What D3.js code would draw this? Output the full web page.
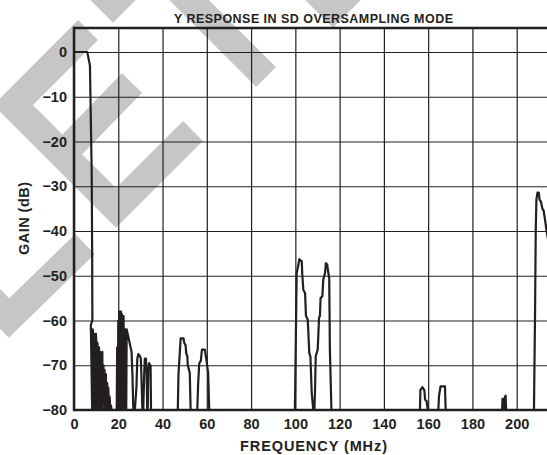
<!DOCTYPE html>
<html>
<head>
<meta charset="utf-8">
<script src="https://cdn.jsdelivr.net/npm/d3@7"></script>
<style>
  body { margin: 0; background: #fff; }
  svg { display: block; font-family: "Liberation Sans", Arial, Helvetica, sans-serif; font-weight: bold; }
  .grid line { stroke: #231f20; stroke-width: 1.2; }
  .grid text { fill: #231f20; font-size: 14.5px; font-weight: bold; }
</style>
</head>
<body>
<div id="chart"></div>
<script>
var freqTicks = [0, 20, 40, 60, 80, 100, 120, 140, 160, 180, 200];
var gainTicks = [0, -10, -20, -30, -40, -50, -60, -70, -80];

// trace pieces, [MHz, dB]
var mainLobe = [[0, 0], [6, 0], [7.2, -3], [8.0, -27], [8.2, -45], [8.3, -60],
  [7.6, -61], [7.8, -67], [8.2, -80], [8.5, -62], [8.8, -66], [9.0, -80], [9.3, -63], [9.5, -65],
  [9.7, -80], [9.9, -63], [10.2, -66], [10.4, -80], [10.6, -65], [10.9, -70], [11.1, -80],
  [11.3, -66], [11.6, -74], [11.8, -67], [12.0, -80], [12.3, -68], [12.5, -77], [12.8, -67],
  [13.0, -80], [13.3, -70], [13.6, -78], [13.8, -71], [14.1, -80], [14.4, -72], [14.7, -80],
  [15.0, -74], [15.2, -80], [15.5, -75], [15.8, -80], [16.1, -77], [16.4, -80], [16.7, -79], [17.0, -80]];
var spur20 = [[19.3, -80], [19.5, -66], [19.8, -80], [20.0, -60], [20.2, -80], [20.4, -58], [20.6, -72],
  [20.8, -58], [21.0, -80], [21.2, -58], [21.4, -70], [21.6, -58.5], [21.8, -80], [22.0, -59], [22.2, -68],
  [22.4, -59], [22.6, -80], [22.8, -62], [23.1, -70], [23.3, -62], [23.6, -80], [23.8, -62], [24.5, -63.5],
  [25.3, -65.4], [26.0, -67], [26.4, -72], [26.8, -80], [27.5, -80], [28.2, -75], [28.6, -68.5],
  [29.1, -67.5], [29.8, -68], [30.2, -68.5], [30.5, -73], [30.9, -80], [31.3, -80], [31.7, -72],
  [32.0, -68.5], [32.5, -68.5], [32.8, -72], [33.1, -80], [33.3, -80], [33.6, -71], [33.9, -69.5],
  [34.3, -70], [34.6, -70], [34.8, -80]];
var spur50 = [[46.9, -80], [47.2, -72], [48.2, -64], [49.5, -64], [49.8, -65], [50.4, -65.5],
  [50.7, -67.3], [51.2, -68], [51.4, -70], [52.3, -71.7], [52.7, -80]];
var spur58 = [[55.7, -80], [56.1, -74], [56.6, -69.5], [57.3, -69], [57.8, -66.5], [59.1, -66.5],
  [59.9, -69], [60.6, -71.7], [61.1, -80]];
var spur104 = [[99.8, -80], [100.6, -49.4], [101.4, -47.5], [101.8, -46.3], [102.9, -46.8],
  [103.1, -49.4], [103.6, -53.1], [104.4, -53.9], [104.8, -59], [105.6, -59.8], [106.3, -67.3],
  [106.8, -68], [107.4, -76.2], [108.1, -80], [108.6, -80], [108.9, -75.4], [109.2, -68],
  [110.1, -66.5], [110.7, -59.4], [111.1, -59], [111.4, -55], [112.2, -54.6], [112.6, -50.9],
  [113.4, -49.4], [113.8, -47.2], [114.4, -47.5], [114.9, -49.4], [115.3, -50.5], [115.6, -66.5],
  [116.3, -80]];
var spur158 = [[156.3, -80], [156.5, -75.5], [157.4, -74.9], [158.3, -75.6], [158.6, -77.7],
  [159.3, -78], [159.8, -80]];
var spur166 = [[164.6, -80], [164.9, -76.9], [165.6, -74.7], [167.6, -74.7], [167.9, -80]];
var spur195 = [[193.4, -80], [193.6, -77.5], [193.8, -80], [194.1, -77.5], [194.4, -80],
  [194.7, -77], [195.0, -76.8], [195.2, -80], [195.5, -80]];
var image208 = [[207.8, -80], [208.3, -58], [208.6, -40], [208.9, -33], [209.4, -31.4],
  [210.0, -31.4], [210.3, -33], [211.0, -33.5], [211.6, -35], [212.2, -35.5], [212.8, -37.5],
  [213.5, -40], [214.2, -42]];

var traces = [mainLobe, spur20, spur50, spur58, spur104, spur158, spur166, spur195, image208];

var width = 547, height = 455;
var plotLeft = 74, plotRight = 547, plotTop = 28, plotBottom = 410;
var ink = "#231f20";

var svg = d3.select("#chart").append("svg")
  .attr("width", width)
  .attr("height", height);

// grey watermark behind the plot
var mark = svg.append("g")
  .attr("fill", "none")
  .attr("stroke", "#c6c6c6")
  .attr("stroke-width", 28)
  .attr("stroke-linejoin", "miter")
  .attr("stroke-linecap", "butt");
["M88,30 L13,105 L116,208 L193,131", "M62,155 L132,83", "M-60,248 L9,318 L85,244",
 "M73,-37 L113,3 L153,-37", "M160,-29 L266,77", "M293,-32 L333,8 L373,-32"].forEach(function(p) {
  mark.append("path").attr("d", p);
});

var x = d3.scaleLinear().domain([0, 200]).range([plotLeft, 516.7]);
var y = d3.scaleLinear().domain([-80, 0]).range([plotBottom, 52]);

svg.append("g")
  .attr("class", "grid")
  .attr("transform", "translate(0," + plotBottom + ")")
  .call(d3.axisBottom(x).tickValues(freqTicks).tickSize(-(plotBottom - plotTop)).tickPadding(9).tickFormat(d3.format("d")))
  .call(function(g) { g.select(".domain").remove(); });

svg.append("g")
  .attr("class", "grid")
  .attr("transform", "translate(" + plotLeft + ",0)")
  .call(d3.axisLeft(y).tickValues(gainTicks).tickSize(-(plotRight - plotLeft)).tickPadding(7).tickFormat(d3.format("d")))
  .call(function(g) { g.select(".domain").remove(); });

// heavy frame lines
svg.append("line").attr("x1", plotLeft).attr("x2", plotRight).attr("y1", plotTop).attr("y2", plotTop)
  .attr("stroke", ink).attr("stroke-width", 2.7);
svg.append("line").attr("x1", plotLeft).attr("x2", plotRight).attr("y1", plotBottom).attr("y2", plotBottom)
  .attr("stroke", ink).attr("stroke-width", 2.7);
svg.append("line").attr("x1", plotLeft).attr("x2", plotLeft).attr("y1", plotTop - 1.3).attr("y2", plotBottom + 1.3)
  .attr("stroke", ink).attr("stroke-width", 2.5);

var line = d3.line()
  .x(function(d) { return x(d[0]); })
  .y(function(d) { return y(d[1]); });

svg.append("g")
  .selectAll("path")
  .data(traces)
  .enter().append("path")
  .attr("d", line)
  .attr("fill", "none")
  .attr("stroke", ink)
  .attr("stroke-width", 2.2)
  .attr("stroke-linejoin", "round");

svg.append("text")
  .attr("x", 174).attr("y", 22.5)
  .attr("font-size", 12.5)
  .attr("textLength", 279).attr("lengthAdjust", "spacing")
  .attr("fill", ink)
  .text("Y RESPONSE IN SD OVERSAMPLING MODE");

svg.append("text")
  .attr("x", 240).attr("y", 451)
  .attr("font-size", 14.5)
  .attr("textLength", 147).attr("lengthAdjust", "spacing")
  .attr("fill", ink)
  .text("FREQUENCY (MHz)");

svg.append("text")
  .attr("transform", "translate(29,255) rotate(-90)")
  .attr("font-size", 14.5)
  .attr("textLength", 73).attr("lengthAdjust", "spacing")
  .attr("fill", ink)
  .text("GAIN (dB)");
</script>
</body>
</html>
